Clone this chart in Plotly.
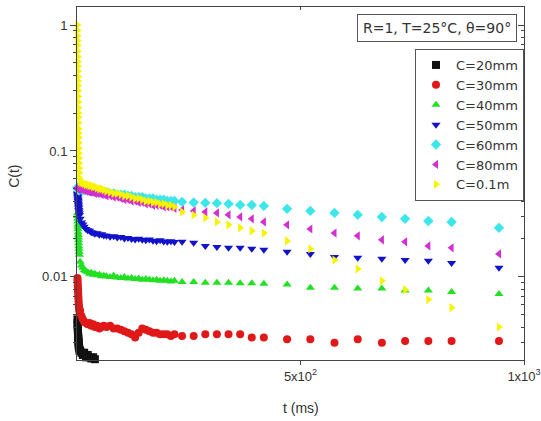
import plotly.graph_objects as go

# Sampling times (ms), shared by every series
t_ms = [1.0, 1.25, 1.5, 1.75, 2.0, 2.25, 2.5, 2.75, 3.0, 3.25, 3.5, 3.75, 4.0, 4.5, 5.0, 5.5,
        7, 10, 13, 16, 20, 24, 28, 32, 36, 40, 45, 50, 55, 60,
        66, 74, 82, 90, 98, 106, 114, 122, 130, 138, 146, 154, 162, 170, 178, 186, 194, 202, 210, 218,
        235, 261, 287, 313, 339, 365, 391, 418, 470, 522, 576, 628, 682, 734, 786, 838, 944]

# C(t) for each gap size C
c_20mm = [0.0046, 0.0043, 0.0041, 0.0039, 0.0037, 0.0036, 0.0034, 0.0033, 0.0032, 0.0031,
          0.0030, 0.0029, 0.0028, 0.0028, 0.0027, 0.0026,
          0.0026, 0.0025, 0.0024, 0.0025, 0.0023, 0.0024, 0.0023, 0.00225, 0.0023, 0.00222]

c_30mm = [0.0098, 0.0094, 0.0090, 0.0086, 0.0082, 0.0079, 0.0076, 0.0073, 0.0070, 0.0067,
          0.0064, 0.0061, 0.0059, 0.0057, 0.0055, 0.0053,
          0.0054, 0.0049, 0.0046, 0.0044, 0.0043, 0.0042, 0.0043, 0.0041, 0.0042, 0.0040,
          0.0041, 0.0039, 0.0040, 0.0041,
          0.0040, 0.0041, 0.0039, 0.0039, 0.0038, 0.0037, 0.0036, 0.0035, 0.0033, 0.0036,
          0.0039, 0.0038, 0.0037, 0.0036, 0.0036, 0.0035, 0.0035, 0.0035, 0.0034, 0.0035,
          0.0034, 0.0034, 0.0035, 0.0035, 0.0035, 0.0035, 0.0033, 0.0033, 0.0032, 0.0032,
          0.0030, 0.0032, 0.0030, 0.0031, 0.0031, 0.0031, 0.0031]

c_40mm = [0.032, 0.0305, 0.029, 0.0275, 0.026, 0.025, 0.024, 0.0225, 0.0215, 0.0205,
          0.0195, 0.0185, 0.0175, 0.0167, 0.0158, 0.0150,
          0.0132, 0.0123, 0.0118, 0.0113, 0.0111, 0.0109, 0.0106, 0.0108, 0.0104, 0.0106,
          0.0103, 0.0104, 0.0101, 0.0102,
          0.0101, 0.0100, 0.0102, 0.0099, 0.0098, 0.0100, 0.0097, 0.0098, 0.0096, 0.0097,
          0.0095, 0.0096, 0.0095, 0.0094, 0.0095, 0.0093, 0.0094, 0.0093, 0.0092, 0.0093,
          0.0091, 0.0091, 0.0090, 0.0090, 0.0090, 0.0089, 0.0089, 0.0088, 0.0087, 0.0082,
          0.0082, 0.0081, 0.0081, 0.0078, 0.0078, 0.0076, 0.0073]

c_50mm = [0.046, 0.045, 0.044, 0.043, 0.042, 0.041, 0.040, 0.039, 0.038, 0.037,
          0.036, 0.035, 0.034, 0.033, 0.032, 0.031,
          0.029, 0.027, 0.026, 0.025, 0.024, 0.0235, 0.0232, 0.0226, 0.0224, 0.0220,
          0.0222, 0.0216, 0.0218, 0.0213,
          0.0212, 0.0208, 0.0210, 0.0205, 0.0207, 0.0202, 0.0204, 0.0200, 0.0198, 0.0201,
          0.0197, 0.0195, 0.0198, 0.0194, 0.0192, 0.0195, 0.0191, 0.0190, 0.0192, 0.0189,
          0.0190, 0.0187, 0.0176, 0.0173, 0.0170, 0.0170, 0.0167, 0.0164, 0.0158, 0.0152,
          0.0144, 0.0142, 0.0139, 0.0136, 0.0134, 0.0129, 0.0118]

c_60mm = [0.051, 0.051, 0.051, 0.050, 0.051, 0.050, 0.050, 0.050, 0.050, 0.049,
          0.050, 0.049, 0.049, 0.049, 0.049, 0.049,
          0.050, 0.050, 0.049, 0.049, 0.049, 0.049, 0.048, 0.048, 0.048, 0.048,
          0.048, 0.047, 0.047, 0.047,
          0.047, 0.046, 0.046, 0.045, 0.045, 0.045, 0.044, 0.044, 0.043, 0.043,
          0.043, 0.042, 0.042, 0.042, 0.041, 0.041, 0.041, 0.040, 0.040, 0.040,
          0.0394, 0.0390, 0.0387, 0.0385, 0.0380, 0.0373, 0.0372, 0.0366, 0.0347, 0.0334,
          0.0322, 0.0311, 0.0299, 0.0289, 0.0278, 0.0273, 0.0245]

c_80mm = [0.051, 0.051, 0.050, 0.051, 0.050, 0.050, 0.050, 0.050, 0.050, 0.050,
          0.050, 0.050, 0.050, 0.050, 0.050, 0.050,
          0.050, 0.050, 0.049, 0.049, 0.048, 0.048, 0.047, 0.047, 0.047, 0.046,
          0.046, 0.046, 0.045, 0.045,
          0.044, 0.044, 0.043, 0.043, 0.042, 0.041, 0.041, 0.040, 0.040, 0.039,
          0.039, 0.038, 0.038, 0.037, 0.037, 0.037, 0.036, 0.036, 0.036, 0.035,
          0.0340, 0.0334, 0.0328, 0.0322, 0.0311, 0.0299, 0.0289, 0.0273, 0.0259, 0.0240,
          0.0223, 0.0212, 0.0197, 0.0190, 0.0176, 0.0170, 0.0152]

c_01m = [1.0, 0.82, 0.69, 0.56, 0.47, 0.39, 0.33, 0.27, 0.22, 0.185,
         0.15, 0.128, 0.105, 0.088, 0.073, 0.061,
         0.057, 0.056, 0.056, 0.055, 0.054, 0.054, 0.053, 0.053, 0.052, 0.052,
         0.051, 0.050, 0.050, 0.049,
         0.048, 0.047, 0.046, 0.046, 0.045, 0.044, 0.044, 0.043, 0.042, 0.042,
         0.041, 0.040, 0.040, 0.039, 0.039, 0.038, 0.038, 0.037, 0.037, 0.036,
         0.0328, 0.0310, 0.0294, 0.0273, 0.0259, 0.0245, 0.0232, 0.0223, 0.0193, 0.0167,
         0.0136, 0.0116, 0.0093, 0.0079, 0.0066, 0.0057, 0.0040]

# extra early samples of the fast initial drop for C=0.1m
t_head_01m = [1.1, 1.35, 1.6, 1.85, 2.1, 2.35, 2.6, 2.85, 3.1, 3.35, 3.6, 3.85, 4.25, 4.75, 5.25]
c_head_01m = [0.905, 0.75, 0.62, 0.51, 0.43, 0.36, 0.30, 0.245, 0.20, 0.167,
              0.139, 0.116, 0.096, 0.080, 0.067]

series_names = ["C=20mm", "C=30mm", "C=40mm", "C=50mm", "C=60mm", "C=80mm", "C=0.1m"]
series_values = [c_20mm, c_30mm, c_40mm, c_50mm, c_60mm, c_80mm, c_01m]
series_colors = ["#111111", "#e01818", "#22e022", "#1212cc", "#3ce6ea", "#d22ed2", "#f6f400"]
series_symbols = ["square", "circle", "triangle-up", "triangle-down", "diamond",
                  "triangle-left", "triangle-right"]

x_tick_vals = [500, 1000]
x_tick_text = ["5x10<sup>2</sup>", "1x10<sup>3</sup>"]
y_tick_vals = [0.01, 0.1, 1]
y_tick_text = ["0.01", "0.1", "1"]
y_minor_vals = [m * d for d in (0.001, 0.01, 0.1) for m in range(2, 10)]

FONT = "Liberation Sans, Arial, sans-serif"
BOX_FONT = "DejaVu Sans, Verdana, sans-serif"
AXIS_COLOR = "#444444"
X_RANGE = [0, 1000]
Y_RANGE = [-2.66, 0.143]

fig = go.Figure()
for name, vals, color, sym in zip(series_names, series_values, series_colors, series_symbols):
    xs = t_ms[:len(vals)]
    ys = list(vals)
    if name == "C=0.1m":
        xs = t_head_01m + xs
        ys = c_head_01m + ys
    fig.add_trace(go.Scatter(
        x=xs, y=ys, mode="markers", name=name,
        marker=dict(symbol=sym, size=8, color=color, line=dict(width=0)),
        cliponaxis=False,
    ))

# empty trace that carries the mirrored top/right tick axes
fig.add_trace(go.Scatter(x=[], y=[], xaxis="x2", yaxis="y2", showlegend=False,
                         hoverinfo="skip"))

fig.update_layout(
    width=541, height=421,
    margin=dict(l=77, r=17, t=7, b=61, autoexpand=False),
    paper_bgcolor="white", plot_bgcolor="white",
    font=dict(family=FONT, size=13, color="#333333"),
    showlegend=True,
    legend=dict(
        x=1.0, xanchor="right", y=0.881, yanchor="top",
        bgcolor="white", bordercolor="#555555", borderwidth=1,
        font=dict(family=BOX_FONT, size=13, color="#333333"),
        itemsizing="trace",
    ),
    xaxis=dict(
        range=X_RANGE, showgrid=False, zeroline=False, automargin=False,
        showline=True, linecolor=AXIS_COLOR, linewidth=1, mirror=True,
        ticks="outside", ticklen=4, tickcolor=AXIS_COLOR,
        tickmode="array", tickvals=x_tick_vals, ticktext=x_tick_text,
        tickfont=dict(size=13, color="#333333"),
    ),
    yaxis=dict(
        type="log", range=Y_RANGE, showgrid=False, zeroline=False, automargin=False,
        showline=True, linecolor=AXIS_COLOR, linewidth=1, mirror=True,
        ticks="outside", ticklen=6, tickcolor=AXIS_COLOR,
        tickmode="array", tickvals=y_tick_vals, ticktext=y_tick_text,
        tickfont=dict(size=13, color="#333333"),
        minor=dict(tickmode="array", tickvals=y_minor_vals, ticks="outside",
                   ticklen=3, tickcolor=AXIS_COLOR, showgrid=False),
    ),
    xaxis2=dict(
        overlaying="x", side="top", range=X_RANGE, showgrid=False, zeroline=False,
        automargin=False, showline=False, ticks="inside", ticklen=3, tickcolor=AXIS_COLOR,
        tickmode="array", tickvals=x_tick_vals, showticklabels=False,
    ),
    yaxis2=dict(
        overlaying="y", side="right", type="log", range=Y_RANGE, automargin=False,
        showgrid=False, zeroline=False, showline=False,
        ticks="inside", ticklen=6, tickcolor=AXIS_COLOR,
        tickmode="array", tickvals=y_tick_vals, showticklabels=False,
        minor=dict(tickmode="array", tickvals=y_minor_vals, ticks="inside",
                   ticklen=3, tickcolor=AXIS_COLOR, showgrid=False),
    ),
    annotations=[
        dict(text="R=1, T=25°C, θ=90°", xref="paper", yref="paper",
             x=0.984, y=0.94, xanchor="right", yanchor="middle", showarrow=False,
             font=dict(family=BOX_FONT, size=14, color="#333333"),
             bordercolor="#555555", borderwidth=1, borderpad=5, bgcolor="white"),
        dict(text="t (ms)", xref="paper", yref="paper", x=0.50, y=-0.135,
             xanchor="center", yanchor="middle", showarrow=False,
             font=dict(family=FONT, size=14, color="#333333")),
        dict(text="C(t)", xref="paper", yref="paper", x=-0.14, y=0.52,
             xanchor="center", yanchor="middle", showarrow=False, textangle=-90,
             font=dict(family=FONT, size=14, color="#333333")),
    ],
)

fig.write_html("out.html")
